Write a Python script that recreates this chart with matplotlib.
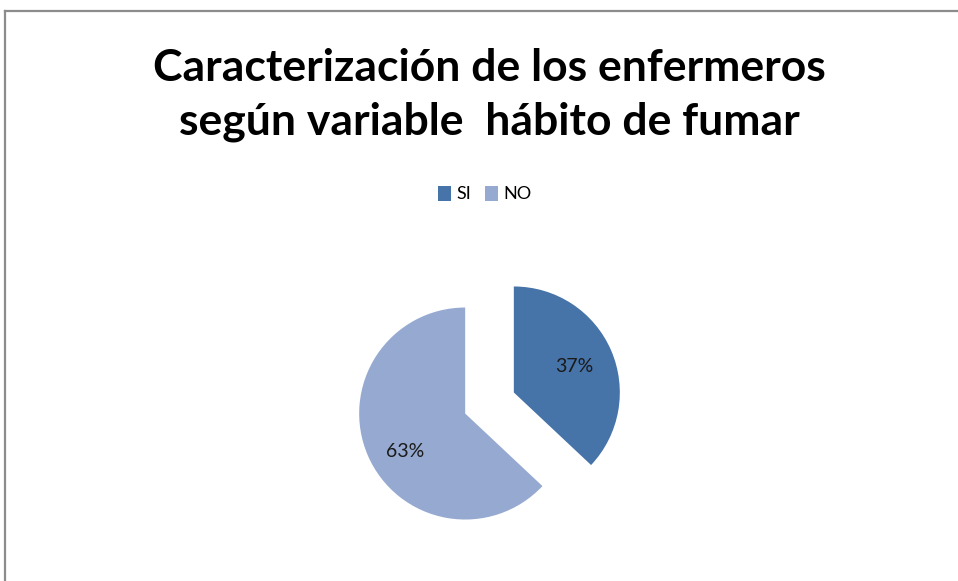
import matplotlib
matplotlib.use("Agg")
import matplotlib.pyplot as plt
from matplotlib.lines import Line2D
from matplotlib.patches import Patch

title = "Caracterización de los enfermeros\nsegún variable  hábito de fumar"
categories = ["SI", "NO"]
values = [37, 63]
colors = ["#4673A8", "#95A9D1"]

W, H, DPI = 958, 581, 100
fig = plt.figure(figsize=(W / DPI, H / DPI), dpi=DPI)
fig.patch.set_facecolor("white")

# pie axes spanning the whole figure, 1 data unit = R pixels
R = 106.0
cx, cy = 489.5, 403.0
ax = fig.add_axes([0, 0, 1, 1])

wedges, texts, autotexts = ax.pie(
    values, colors=colors, startangle=90, counterclock=False,
    explode=[0.25, 0.25], radius=1.0, autopct="%1.0f%%", pctdistance=0.62,
    textprops=dict(fontsize=14, color="#1a1a1a", family="Lato"),
    wedgeprops=dict(linewidth=0),
)
ax.set_xlim(-cx / R, (W - cx) / R)
ax.set_ylim(-(H - cy) / R, cy / R)
ax.set_aspect("equal")
ax.axis("off")

# nudge the NO label slightly lower, as in the reference
x1, y1 = autotexts[1].get_position()
autotexts[1].set_position((x1, y1 - 0.11))

fig.text(0.5105, 1 - 95 / H, title, ha="center", va="center", fontsize=32,
         fontweight="bold", family="Lato", linespacing=1.4)

handles = [Patch(facecolor=c, edgecolor="none") for c in colors]
fig.legend(handles, categories, loc="center", bbox_to_anchor=(0.506, 1 - 194 / H),
           ncol=2, frameon=False, handlelength=0.7, handleheight=0.9,
           handletextpad=0.3, columnspacing=0.8, prop=dict(family="Lato", size=13))

# border (top and left visible)
fig.add_artist(Line2D([5 / W, 1], [1 - 11 / H, 1 - 11 / H], color="#8c8c8c", lw=1.6,
                      transform=fig.transFigure))
fig.add_artist(Line2D([5 / W, 5 / W], [0, 1 - 11 / H], color="#8c8c8c", lw=1.6,
                      transform=fig.transFigure))

fig.savefig("out.png", dpi=DPI)
